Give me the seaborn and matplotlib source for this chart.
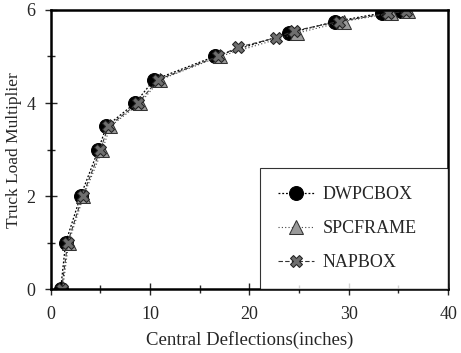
import numpy as np
import pandas as pd
import matplotlib
matplotlib.use("Agg")
import matplotlib.pyplot as plt
import seaborn as sns

# =========================
# DATOS
# =========================
dwpc_x = [1.0, 1.5, 3.0, 4.8, 5.6, 8.5, 10.4, 16.5, 24.0, 28.6, 33.3, 35.3]
dwpc_y = [0.0, 1.0, 2.0, 3.0, 3.5, 4.0, 4.5, 5.0, 5.5, 5.75, 5.93, 5.97]

spc_x = [1.2, 1.8, 3.3, 5.2, 6.0, 9.0, 11.0, 17.0, 24.8, 29.5, 34.3, 36.0]
spc_y = [0.0, 1.0, 2.0, 3.0, 3.5, 4.0, 4.5, 5.0, 5.5, 5.75, 5.93, 5.97]

nap_x = [1.1, 1.7, 3.2, 5.0, 5.8, 8.8, 10.8, 16.8, 18.9, 22.7, 24.5, 29.0, 34.0, 35.8]
nap_y = [0.0, 1.0, 2.0, 3.0, 3.5, 4.0, 4.5, 5.0, 5.2, 5.4, 5.55, 5.75, 5.93, 5.97]

x_ticks = [0, 10, 20, 30, 40]
y_ticks = [0, 2, 4, 6]

# =========================
# ESTILO
# =========================
sns.set_style("ticks")
plt.rcParams["font.family"] = ["Liberation Serif", "DejaVu Serif"]

fig = plt.figure(figsize=(4.61, 3.53), dpi=100)
ax = fig.add_axes([0.11, 0.18, 0.862, 0.792])

sns.lineplot(x=dwpc_x, y=dwpc_y, ax=ax, color="black", linewidth=0.9,
             linestyle=(0, (1.5, 1.5)), marker="o", markersize=10,
             markeredgecolor="black", markerfacecolor="black", label="DWPCBOX",
             sort=False)
sns.lineplot(x=spc_x, y=spc_y, ax=ax, color="#444444", linewidth=0.8,
             linestyle=(0, (1, 2)), marker="^", markersize=10,
             markeredgecolor="#333333", markerfacecolor="#9a9a9a", label="SPCFRAME",
             sort=False)
sns.lineplot(x=nap_x, y=nap_y, ax=ax, color="#333333", linewidth=0.8,
             linestyle=(0, (4, 2)), marker="X", markersize=9,
             markeredgecolor="#222222", markerfacecolor="#6e6e6e", label="NAPBOX",
             sort=False)

ax.set_xlim(0, 40)
ax.set_ylim(0, 6)
ax.set_xticks(x_ticks)
ax.set_yticks(y_ticks)
ax.set_xticks([5, 15, 25, 35], minor=True)
ax.set_yticks([1, 3, 5], minor=True)
ax.tick_params(which="both", direction="inout", length=8, width=1, labelsize=13,
               top=False, right=False)
ax.tick_params(axis="x", which="major", pad=8)
ax.tick_params(axis="y", which="major", pad=7)
ax.tick_params(which="minor", length=6)

for s in ax.spines.values():
    s.set_visible(True)
    s.set_linewidth(1.8)
    s.set_color("black")

ax.set_xlabel("Central Deflections(inches)", fontsize=13.5, labelpad=6)
ax.set_ylabel("Truck Load Multiplier", fontsize=12.5, labelpad=3)

leg = ax.legend(loc="lower left", bbox_to_anchor=(0.526, 0.0, 0.474, 0.457),
                mode="expand", fontsize=13, frameon=True, fancybox=False,
                edgecolor="black", borderaxespad=0, handlelength=2.0,
                labelspacing=0.95, borderpad=1.0, handletextpad=0.5)
leg.get_frame().set_linewidth(0.8)

fig.savefig("out.png", dpi=100)
